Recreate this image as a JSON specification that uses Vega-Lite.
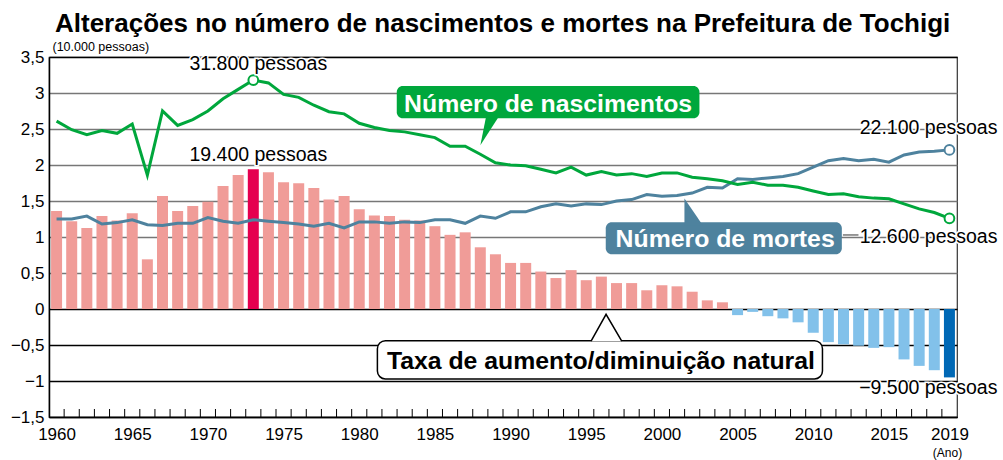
{
  "$schema": "https://vega.github.io/schema/vega-lite/v6.json",
  "width": 908,
  "height": 360,
  "autosize": "none",
  "padding": {"left": 49, "top": 57, "right": 46, "bottom": 43},
  "background": "white",
  "config": {"view": {"stroke": "#333", "strokeWidth": 1.2}, "font": "Liberation Sans"},
  "title": {
    "text": "Alterações no número de nascimentos e mortes na Prefeitura de Tochigi",
    "anchor": "start", "frame": "group", "dx": 6, "fontSize": 26, "font": "Liberation Sans",
    "fontWeight": "bold", "color": "black", "baseline": "alphabetic", "offset": -18
  },
  "data": {"values": [
    {"year": 1960, "births": 2.61, "deaths": 1.25, "natural": 1.36},
    {"year": 1961, "births": 2.49, "deaths": 1.25, "natural": 1.22},
    {"year": 1962, "births": 2.42, "deaths": 1.29, "natural": 1.125},
    {"year": 1963, "births": 2.48, "deaths": 1.18, "natural": 1.29},
    {"year": 1964, "births": 2.44, "deaths": 1.20, "natural": 1.23},
    {"year": 1965, "births": 2.57, "deaths": 1.24, "natural": 1.33},
    {"year": 1966, "births": 1.86, "deaths": 1.17, "natural": 0.69},
    {"year": 1967, "births": 2.75, "deaths": 1.16, "natural": 1.57},
    {"year": 1968, "births": 2.55, "deaths": 1.19, "natural": 1.36},
    {"year": 1969, "births": 2.63, "deaths": 1.19, "natural": 1.43},
    {"year": 1970, "births": 2.75, "deaths": 1.27, "natural": 1.49},
    {"year": 1971, "births": 2.92, "deaths": 1.22, "natural": 1.71},
    {"year": 1972, "births": 3.05, "deaths": 1.19, "natural": 1.86},
    {"year": 1973, "births": 3.18, "deaths": 1.24, "natural": 1.94},
    {"year": 1974, "births": 3.14, "deaths": 1.22, "natural": 1.90},
    {"year": 1975, "births": 2.98, "deaths": 1.20, "natural": 1.76},
    {"year": 1976, "births": 2.94, "deaths": 1.18, "natural": 1.745},
    {"year": 1977, "births": 2.83, "deaths": 1.15, "natural": 1.68},
    {"year": 1978, "births": 2.74, "deaths": 1.19, "natural": 1.52},
    {"year": 1979, "births": 2.71, "deaths": 1.125, "natural": 1.57},
    {"year": 1980, "births": 2.58, "deaths": 1.21, "natural": 1.385},
    {"year": 1981, "births": 2.52, "deaths": 1.21, "natural": 1.30},
    {"year": 1982, "births": 2.48, "deaths": 1.19, "natural": 1.29},
    {"year": 1983, "births": 2.46, "deaths": 1.21, "natural": 1.24},
    {"year": 1984, "births": 2.42, "deaths": 1.20, "natural": 1.23},
    {"year": 1985, "births": 2.38, "deaths": 1.24, "natural": 1.15},
    {"year": 1986, "births": 2.26, "deaths": 1.24, "natural": 1.03},
    {"year": 1987, "births": 2.26, "deaths": 1.19, "natural": 1.065},
    {"year": 1988, "births": 2.15, "deaths": 1.29, "natural": 0.857},
    {"year": 1989, "births": 2.03, "deaths": 1.26, "natural": 0.76},
    {"year": 1990, "births": 2.00, "deaths": 1.35, "natural": 0.64},
    {"year": 1991, "births": 1.99, "deaths": 1.35, "natural": 0.64},
    {"year": 1992, "births": 1.94, "deaths": 1.42, "natural": 0.52},
    {"year": 1993, "births": 1.89, "deaths": 1.46, "natural": 0.43},
    {"year": 1994, "births": 1.97, "deaths": 1.43, "natural": 0.54},
    {"year": 1995, "births": 1.86, "deaths": 1.46, "natural": 0.40},
    {"year": 1996, "births": 1.91, "deaths": 1.45, "natural": 0.45},
    {"year": 1997, "births": 1.86, "deaths": 1.50, "natural": 0.36},
    {"year": 1998, "births": 1.88, "deaths": 1.52, "natural": 0.36},
    {"year": 1999, "births": 1.84, "deaths": 1.59, "natural": 0.26},
    {"year": 2000, "births": 1.89, "deaths": 1.565, "natural": 0.33},
    {"year": 2001, "births": 1.89, "deaths": 1.575, "natural": 0.315},
    {"year": 2002, "births": 1.83, "deaths": 1.61, "natural": 0.24},
    {"year": 2003, "births": 1.81, "deaths": 1.69, "natural": 0.12},
    {"year": 2004, "births": 1.78, "deaths": 1.68, "natural": 0.093},
    {"year": 2005, "births": 1.73, "deaths": 1.81, "natural": -0.085},
    {"year": 2006, "births": 1.76, "deaths": 1.80, "natural": -0.04},
    {"year": 2007, "births": 1.72, "deaths": 1.82, "natural": -0.10},
    {"year": 2008, "births": 1.72, "deaths": 1.84, "natural": -0.13},
    {"year": 2009, "births": 1.69, "deaths": 1.88, "natural": -0.185},
    {"year": 2010, "births": 1.64, "deaths": 1.97, "natural": -0.33},
    {"year": 2011, "births": 1.59, "deaths": 2.06, "natural": -0.46},
    {"year": 2012, "births": 1.60, "deaths": 2.09, "natural": -0.49},
    {"year": 2013, "births": 1.56, "deaths": 2.06, "natural": -0.51},
    {"year": 2014, "births": 1.54, "deaths": 2.08, "natural": -0.54},
    {"year": 2015, "births": 1.53, "deaths": 2.04, "natural": -0.53},
    {"year": 2016, "births": 1.46, "deaths": 2.14, "natural": -0.70},
    {"year": 2017, "births": 1.39, "deaths": 2.18, "natural": -0.79},
    {"year": 2018, "births": 1.34, "deaths": 2.19, "natural": -0.85},
    {"year": 2019, "births": 1.26, "deaths": 2.21, "natural": -0.95}
  ]},
  "layer": [
    {
      "mark": {"type": "bar", "orient": "vertical", "size": 11},
      "encoding": {
        "x": {
          "field": "year", "type": "quantitative",
          "scale": {"domain": [1959.5, 2019.5], "nice": false, "zero": false, "padding": 0},
          "axis": {
            "title": "(Ano)", "titleX": 898, "titleY": 35, "titleBaseline": "middle", "titleAlign": "center",
            "titleFontSize": 12, "titleFontWeight": "normal", "titleFont": "Liberation Sans", "titleColor": "black",
            "tickCount": 100,
            "values": [1960, 1965, 1970, 1975, 1980, 1985, 1990, 1995, 2000, 2005, 2010, 2015, 2019],
            "labelExpr": "toString(datum.value)",
            "labelOverlap": false, "labelFlush": false, "labelBound": false,
            "labelFont": "Liberation Sans", "labelFontSize": 17, "labelColor": "black", "labelPadding": 9,
            "ticks": false, "grid": false,
            "domainColor": "black", "domainWidth": 1.5
          }
        },
        "y": {
          "field": "natural", "type": "quantitative",
          "scale": {"domain": [-1.5, 3.5], "nice": false, "zero": false},
          "axis": {
            "title": "(10.000 pessoas)", "titleAngle": 0, "titleAlign": "left", "titleBaseline": "alphabetic",
            "titleX": 3, "titleY": -7, "titleFontSize": 12.5, "titleFontWeight": "normal", "titleFont": "Liberation Sans", "titleColor": "black",
            "tickCount": 100,
            "values": [-1.5, -1, -0.5, 0, 0.5, 1, 1.5, 2, 2.5, 3, 3.5],
            "labelExpr": "datum.value < 0 ? '−' + replace(toString(-datum.value), '.', ',') : replace(toString(datum.value), '.', ',')",
            "labelFontSize": 17, "labelColor": "black", "labelPadding": 5, "labelFont": "Liberation Sans", "labelOverlap": false,
            "ticks": false, "domainColor": "black", "domainWidth": 1.5,
            "grid": true, "gridWidth": 1.3,
            "gridColor": {"condition": {"test": "datum.value <= 0 || datum.value >= 3.5", "value": "#000000"}, "value": "#777777"}
          }
        },
        "color": {
          "condition": [
            {"test": "datum.year == 1973", "value": "#e5004f"},
            {"test": "datum.year == 2019", "value": "#0068b5"},
            {"test": "datum.natural < 0", "value": "#82c1ea"}
          ],
          "value": "#f09c98"
        }
      }
    },
    {
      "transform": [{"filter": "datum.year < 2019"}],
      "mark": {"type": "tick", "orient": "vertical", "size": 8, "thickness": 1, "color": "#000000", "opacity": 1, "xOffset": 7.57, "yOffset": -4},
      "encoding": {
        "x": {"field": "year", "type": "quantitative"},
        "y": {"datum": -1.5, "type": "quantitative"}
      }
    },
    {
      "mark": {"type": "line", "color": "#4e829e", "strokeWidth": 3},
      "encoding": {
        "x": {"field": "year", "type": "quantitative"},
        "y": {"field": "deaths", "type": "quantitative"}
      }
    },
    {
      "mark": {"type": "line", "color": "#00a73c", "strokeWidth": 3},
      "encoding": {
        "x": {"field": "year", "type": "quantitative"},
        "y": {"field": "births", "type": "quantitative"}
      }
    },
    {
      "transform": [{"filter": "datum.year == 1973 || datum.year == 2019"}],
      "mark": {"type": "point", "shape": "circle", "size": 95, "filled": true, "fill": "white", "stroke": "#00a73c", "strokeWidth": 2, "opacity": 1},
      "encoding": {
        "x": {"field": "year", "type": "quantitative"},
        "y": {"field": "births", "type": "quantitative"}
      }
    },
    {
      "transform": [{"filter": "datum.year == 2019"}],
      "mark": {"type": "point", "shape": "circle", "size": 95, "filled": true, "fill": "white", "stroke": "#4e829e", "strokeWidth": 2, "opacity": 1},
      "encoding": {
        "x": {"field": "year", "type": "quantitative"},
        "y": {"field": "deaths", "type": "quantitative"}
      }
    },
    {
      "data": {"values": [{}]},
      "mark": {"type": "rect", "color": "#00a73c", "cornerRadius": 6},
      "encoding": {
        "x": {"datum": 1982.48, "type": "quantitative"}, "x2": {"datum": 2002.48},
        "y": {"datum": 3.097, "type": "quantitative"}, "y2": {"datum": 2.649}
      }
    },
    {
      "data": {"values": [{}]},
      "mark": {"type": "point", "shape": "M0,0L1.33,0L-0.6,3.0Z", "size": 400, "filled": true, "fill": "#00a73c", "strokeWidth": 0, "opacity": 1},
      "encoding": {
        "x": {"datum": 1988.4, "type": "quantitative"},
        "y": {"datum": 2.69, "type": "quantitative"}
      }
    },
    {
      "data": {"values": [{}]},
      "mark": {"type": "text", "text": "Número de nascimentos", "fill": "white", "fontSize": 24.8, "fontWeight": "bold", "font": "Liberation Sans", "align": "center", "baseline": "alphabetic"},
      "encoding": {
        "x": {"datum": 1992.48, "type": "quantitative"},
        "y": {"datum": 2.74, "type": "quantitative"}
      }
    },
    {
      "data": {"values": [{}]},
      "mark": {"type": "rect", "color": "#4e829e", "cornerRadius": 6},
      "encoding": {
        "x": {"datum": 1996.29, "type": "quantitative"}, "x2": {"datum": 2011.89},
        "y": {"datum": 1.204, "type": "quantitative"}, "y2": {"datum": 0.76}
      }
    },
    {
      "data": {"values": [{}]},
      "mark": {"type": "point", "shape": "M0,0L1.83,0L0,-2.67Z", "size": 400, "filled": true, "fill": "#4e829e", "strokeWidth": 0, "opacity": 1},
      "encoding": {
        "x": {"datum": 2001.49, "type": "quantitative"},
        "y": {"datum": 1.1625, "type": "quantitative"}
      }
    },
    {
      "data": {"values": [{}]},
      "mark": {"type": "text", "text": "Número de mortes", "fill": "white", "fontSize": 24.8, "fontWeight": "bold", "font": "Liberation Sans", "align": "center", "baseline": "alphabetic"},
      "encoding": {
        "x": {"datum": 2004.18, "type": "quantitative"},
        "y": {"datum": 0.865, "type": "quantitative"}
      }
    },
    {
      "data": {"values": [{}]},
      "mark": {"type": "rect", "fill": "white", "stroke": "black", "strokeWidth": 1.5, "cornerRadius": 8},
      "encoding": {
        "x": {"datum": 1981.2, "type": "quantitative"}, "x2": {"datum": 2010.61},
        "y": {"datum": -0.44, "type": "quantitative"}, "y2": {"datum": -0.972}
      }
    },
    {
      "data": {"values": [{}]},
      "mark": {"type": "point", "shape": "M-1.5,0.05L0,-2.64L1.57,0.05", "size": 400, "filled": true, "fill": "white", "stroke": "black", "strokeWidth": 1.5, "opacity": 1},
      "encoding": {
        "x": {"datum": 1996.31, "type": "quantitative"},
        "y": {"datum": -0.44, "type": "quantitative"}
      }
    },
    {
      "data": {"values": [{}]},
      "mark": {"type": "text", "text": "Taxa de aumento/diminuição natural", "fill": "black", "fontSize": 24.8, "fontWeight": "bold", "font": "Liberation Sans", "align": "center", "baseline": "alphabetic"},
      "encoding": {
        "x": {"datum": 1995.97, "type": "quantitative"},
        "y": {"datum": -0.8375, "type": "quantitative"}
      }
    },
    {
      "data": {"values": [{}]},
      "mark": {"type": "rule", "color": "#333", "strokeWidth": 1},
      "encoding": {
        "x": {"datum": 2011.96, "type": "quantitative"}, "x2": {"datum": 2012.99},
        "y": {"datum": 1.028, "type": "quantitative"}
      }
    },
    {
      "data": {"values": [
        {"label": "31.800 pessoas", "x": 1973, "y": 3.319},
        {"label": "19.400 pessoas", "x": 1973, "y": 2.06}
      ]},
      "layer": [
        {
          "mark": {"type": "text", "fontSize": 19.5, "font": "Liberation Sans", "align": "center", "baseline": "alphabetic", "dx": 5, "fill": "white", "stroke": "white", "strokeWidth": 3},
          "encoding": {"x": {"field": "x", "type": "quantitative"}, "y": {"field": "y", "type": "quantitative"}, "text": {"field": "label"}}
        },
        {
          "mark": {"type": "text", "fontSize": 19.5, "font": "Liberation Sans", "align": "center", "baseline": "alphabetic", "dx": 5, "fill": "black"},
          "encoding": {"x": {"field": "x", "type": "quantitative"}, "y": {"field": "y", "type": "quantitative"}, "text": {"field": "label"}}
        }
      ]
    },
    {
      "data": {"values": [
        {"label": "22.100 pessoas", "x": 2019, "y": 2.426},
        {"label": "12.600 pessoas", "x": 2019, "y": 0.9125},
        {"label": "−9.500 pessoas", "x": 2019, "y": -1.18}
      ]},
      "layer": [
        {
          "mark": {"type": "text", "fontSize": 19.5, "font": "Liberation Sans", "align": "right", "baseline": "alphabetic", "dx": 48, "fill": "white", "stroke": "white", "strokeWidth": 3},
          "encoding": {"x": {"field": "x", "type": "quantitative"}, "y": {"field": "y", "type": "quantitative"}, "text": {"field": "label"}}
        },
        {
          "mark": {"type": "text", "fontSize": 19.5, "font": "Liberation Sans", "align": "right", "baseline": "alphabetic", "dx": 48, "fill": "black"},
          "encoding": {"x": {"field": "x", "type": "quantitative"}, "y": {"field": "y", "type": "quantitative"}, "text": {"field": "label"}}
        }
      ]
    }
  ]
}
